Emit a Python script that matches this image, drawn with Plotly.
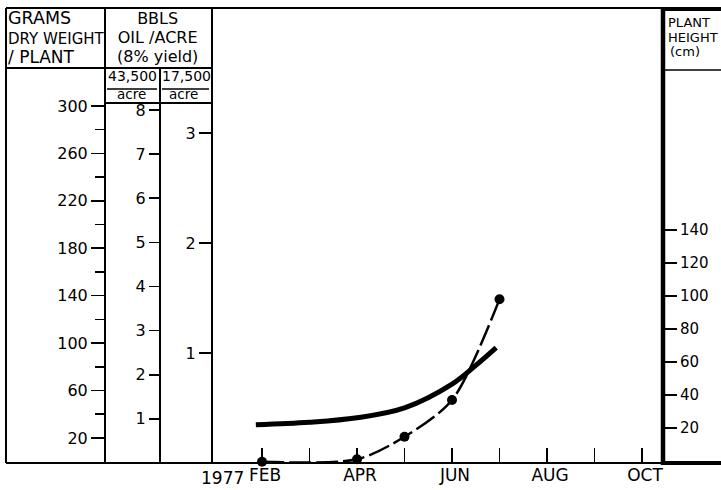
import plotly.graph_objects as go

# ---------------- data ----------------
months = [2, 3, 4, 5, 6, 7, 8, 9, 10]
month_labels = ["FEB", "", "APR", "", "JUN", "", "AUG", "", "OCT"]
year_label = "1977"

dry_weight_month = [2, 4, 5, 6, 7]
dry_weight_g = [0, 2, 21, 52, 137]

height_month = [1.87, 3.0, 4.0, 5.0, 6.0, 6.5, 6.93]
height_cm = [21.8, 23.3, 26.0, 32.0, 46.4, 57.8, 68.6]

grams_ticks = [20, 60, 100, 140, 180, 220, 260, 300]
grams_minor = [40, 80, 120, 160, 200, 240, 280]
bbl_43500_ticks = [1, 2, 3, 4, 5, 6, 7, 8]
bbl_17500_ticks = [1, 2, 3]
height_ticks = [20, 40, 60, 80, 100, 120, 140]

# ---------------- layout helpers ----------------
W, H = 721, 490
L, R, T, B = 5, 0, 8, 27
PW, PH = W - L - R, H - T - B
FONT = "DejaVu Sans"


def px(x):
    return (x - L) / PW


def py(y):
    return (H - B - y) / PH


def hline(x0, x1, y, w=2):
    return dict(type="line", xref="paper", yref="paper", x0=px(x0), x1=px(x1),
                y0=py(y), y1=py(y), line=dict(color="black", width=w))


def vline(x, y0, y1, w=2):
    return dict(type="line", xref="paper", yref="paper", x0=px(x), x1=px(x),
                y0=py(y0), y1=py(y1), line=dict(color="black", width=w))


fig = go.Figure()

fig.add_trace(go.Scatter(
    x=height_month, y=height_cm, yaxis="y", mode="lines",
    line=dict(color="black", width=5, shape="spline", smoothing=1.0),
    showlegend=False, hoverinfo="skip"))

fig.add_trace(go.Scatter(
    x=dry_weight_month, y=dry_weight_g, yaxis="y2", mode="lines+markers",
    line=dict(color="black", width=2.5, shape="spline", smoothing=0.8, dash="22px,5px"),
    marker=dict(color="black", size=10),
    cliponaxis=False, showlegend=False, hoverinfo="skip"))

fig.add_trace(go.Scatter(x=[None], y=[None], yaxis="y3", showlegend=False, hoverinfo="skip"))
fig.add_trace(go.Scatter(x=[None], y=[None], yaxis="y4", showlegend=False, hoverinfo="skip"))

tickfont = dict(family=FONT, size=16, color="black")
common = dict(showgrid=False, zeroline=False, showline=False, automargin=False,
              ticks="outside", tickcolor="black", tickwidth=1.6, fixedrange=True)

shapes = [
    vline(6, 8, 463),            # left border
    hline(6, 663, 8),            # top border
    hline(6, 212, 68),           # header bottom
    hline(105, 212, 103),        # sub header bottom
    vline(105, 8, 463),          # grams axis line
    vline(160, 68, 463),         # 43,500 axis line
    vline(212, 8, 463),          # 17,500 axis line / plot left
    hline(6, 663, 463),          # bottom
    vline(663, 7, 465, 4.5),     # thick right border
    hline(663, 721, 9, 4),
    hline(663, 721, 463, 4),
    hline(665, 721, 70, 1.5),    # plant height box
    hline(107, 157, 89, 1.5),    # fraction bars
    hline(162, 209, 89, 1.5),
]


def ann(text, x, y, size=15, xanchor="center", align="center"):
    return dict(text=text, x=px(x), y=py(y), xref="paper", yref="paper",
                showarrow=False, xanchor=xanchor, yanchor="middle", align=align,
                font=dict(family=FONT, size=size, color="black"))


annotations = [
    ann('<span style="font-size:17.5px">GRAMS</span><br>DRY WEIGHT<br>'
        '<span style="font-size:17px">/ PLANT</span>', 6, 37, 15, "left", "left"),
    ann('<span style="font-size:16px">BBLS</span><br>'
        '<span style="font-size:16px">OIL /ACRE</span><br>'
        '<span style="font-size:16px">(8% yield)</span>', 157, 38, 14.5),
    ann("43,500", 132, 76, 14),
    ann("17,500", 186, 76, 14),
    ann("acre", 131, 94, 13.5),
    ann("acre", 183, 94, 13.5),
    ann("PLANT", 666, 23, 13, "left"),
    ann("HEIGHT", 666, 37, 13, "left"),
    ann("(cm)", 668, 51, 13, "left"),
    ann(year_label, 246, 478, 17, "right"),
]

fig.update_layout(
    width=W, height=H,
    margin=dict(l=L, r=R, t=T, b=B, pad=0),
    template="none",
    paper_bgcolor="white", plot_bgcolor="white",
    showlegend=False,
    xaxis=dict(domain=[px(212), px(663)], range=[0.947, 10.442],
               tickmode="array", tickvals=months, ticktext=month_labels,
               showgrid=False, zeroline=False, showline=False, automargin=False,
               ticks="inside", ticklen=15, tickwidth=1.6, tickcolor="black",
               tickfont=dict(family=FONT, size=17, color="black"),
               ticklabelshift=3,
               anchor="y", fixedrange=True),
    yaxis=dict(range=[-1.4, 274.4], side="right", anchor="x",
               tickmode="array", tickvals=height_ticks, ticklen=13,
               tickfont=dict(family=FONT, size=15, color="black"), **common),
    yaxis2=dict(range=[-1.1, 382.6], side="left", anchor="free", position=px(105),
                overlaying="y", tickmode="array", tickvals=grams_ticks, ticklen=14,
                minor=dict(tickmode="array", tickvals=grams_minor, ticklen=10,
                           ticks="outside", tickcolor="black", tickwidth=1.6),
                tickfont=tickfont, **common),
    yaxis3=dict(range=[0, 10.31], side="left", anchor="free", position=px(160),
                overlaying="y", tickmode="array", tickvals=bbl_43500_ticks, ticklen=11,
                tickfont=tickfont, **common),
    yaxis4=dict(range=[0, 4.136], side="left", anchor="x",
                overlaying="y", tickmode="array", tickvals=bbl_17500_ticks, ticklen=12,
                tickfont=tickfont, **common),
    shapes=shapes,
    annotations=annotations,
)

fig.write_html("out.html",
               config={"displayModeBar": False, "staticPlot": True},
               post_script="document.body.style.margin='0px';document.body.style.overflow='hidden';")
